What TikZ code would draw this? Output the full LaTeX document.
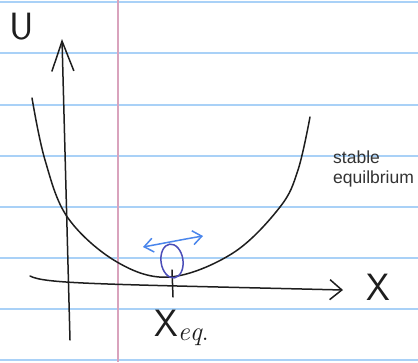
\documentclass[tikz,border=0pt]{standalone}
\usepackage{fontspec}
\newfontfamily\notefont{Liberation Sans}
\usetikzlibrary{arrows.meta,positioning,shapes.geometric}
\definecolor{PaperRule}{HTML}{A9D1F7}
\definecolor{PaperMargin}{HTML}{D9A3BD}
\definecolor{InkBlack}{HTML}{1E1E1E}
\definecolor{InkBall}{HTML}{4B4DB8}
\definecolor{InkArrow}{HTML}{4A86EC}
\definecolor{NoteGray}{HTML}{333333}

\begin{document}
\begin{tikzpicture}[x=1pt,y=-1pt,
    rule/.style={PaperRule,line width=1.2pt},
    pen/.style={InkBlack,line width=1.5pt,line cap=round,line join=round},
    hand/.style={font=\sffamily\fontsize{38}{38}\selectfont,text=InkBlack,inner sep=0pt},
    yax/.style={pen,-{Straight Barb[length=30pt,width=22pt,line width=1.5pt]}},
    xax/.style={pen,-{Straight Barb[length=12pt,width=20pt,line width=1.5pt]}}
  ]
    \useasboundingbox[fill=white] (0,0) rectangle (418,362);
    % ruled paper
    \foreach \y in {2,53,105,156,207,258,309,360}
      \draw[rule] (0,\y) -- (418,\y);
    \draw[PaperMargin,line width=1.2pt] (118,0) -- (118,362);
    % axes
    \coordinate (ybot) at (70,340);
    \coordinate (ytop) at (62,39);
    \coordinate (xleft) at (30,276);
    \coordinate (xright) at (343,290);
    \draw[yax] (ybot) -- (ytop);
    \draw[xax] (xleft) .. controls (45,284) and (100,284) .. (xright);
    % potential curve
    \draw[pen] plot[smooth,tension=0.6] coordinates
      {(32,98) (45,160) (68,218) (117,262) (170,277) (233,253) (280,207) (298,170) (310,117)};
    % equilibrium tick and ball
    \coordinate (tktop) at (172,270);
    \coordinate (tkbot) at (173,297);
    \draw[pen] (tktop) -- (tkbot);
    \node[draw=InkBall,line width=1.5pt,ellipse,minimum width=22pt,minimum height=34pt,
          inner sep=0pt,rotate=8] (ball) at (172,261) {};
    \coordinate (wl) at (143,247);
    \coordinate (wr) at (203,236);
    \draw[InkArrow,line width=1.5pt,line cap=round,
          {Straight Barb[length=9pt,width=14pt]}-{Straight Barb[length=9pt,width=14pt]}]
      (wl) .. controls (165,243) and (185,239) .. (wr);
    % labels
    \node[hand] (ulab) at (22,27) {U};
    \node[hand] (xlab) at (378,287) {X};
    \node[hand,anchor=west] (xeq) at (154,328) {X$_{\mathit{eq.}}$};
    \node[font=\notefont\fontsize{17.5}{20}\selectfont,text=NoteGray,align=left,
          anchor=north west,inner sep=0pt] (note) at (333,151) {stable\\equilbrium};
\end{tikzpicture}
\end{document}
